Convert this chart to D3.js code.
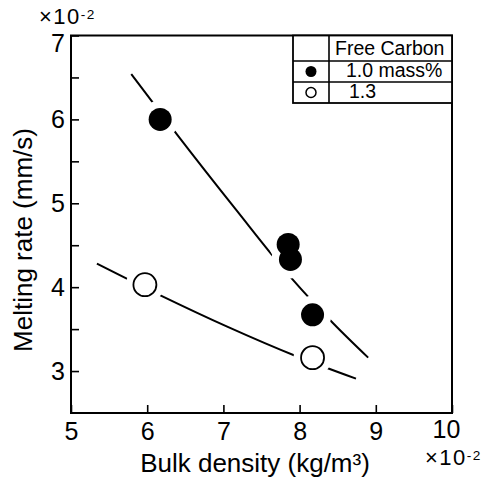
<!DOCTYPE html>
<html>
<head>
<meta charset="utf-8">
<script src="https://cdn.jsdelivr.net/npm/d3@7"></script>
<style>
  html, body { margin: 0; padding: 0; background: #fff; }
  svg { display: block; font-family: "Liberation Sans", Arial, Helvetica, sans-serif; }
</style>
</head>
<body>
<svg id="chart" width="489" height="479"></svg>
<script>
// Measured melting rate vs bulk density (both axes in units of 10^-2)
const density10 = [6.17, 7.85, 7.88, 8.17];
const rate10    = [6.00, 4.51, 4.33, 3.67];
const density13 = [5.97, 8.17];
const rate13    = [4.03, 3.16];

// Hand-drawn trend curves through each series
const fitDensity10 = [5.79, 6.40, 7.16, 7.89, 8.44, 8.90];
const fitRate10    = [6.54, 5.81, 4.93, 4.11, 3.57, 3.16];
const fitDensity13 = [5.34, 6.18, 7.05, 7.95, 8.74];
const fitRate13    = [4.28, 3.90, 3.53, 3.18, 2.91];

const xTickValues = [5, 6, 7, 8, 9, 10];
const yTickValues = [3, 3.5, 4, 4.5, 5, 5.5, 6, 6.5, 7];

const legendTitle = "Free Carbon";
const legendLabels = ["1.0 mass%", "1.3"];

const svg = d3.select("#chart");
const x = d3.scaleLinear().domain([5, 10]).range([71, 452]);
const y = d3.scaleLinear().domain([2.5, 7]).range([413, 35.5]);

// Axes with inward ticks
const xAxis = d3.axisBottom(x).tickValues(xTickValues).tickSize(-8).tickPadding(9)
  .tickFormat(d3.format("d"));
const yAxis = d3.axisLeft(y).tickValues(yTickValues).tickSize(-8).tickPadding(6)
  .tickFormat(d => Number.isInteger(d) ? d : "");

const gx = svg.append("g").attr("transform", `translate(0,${y.range()[0]})`).call(xAxis);
const gy = svg.append("g").attr("transform", `translate(${x.range()[0]},0)`).call(yAxis);
[gx, gy].forEach(g => {
  g.select(".domain").remove();
  g.selectAll(".tick line").attr("stroke", "#000").attr("stroke-width", 1.6);
  g.selectAll(".tick text").attr("fill", "#000").attr("font-size", 25)
    .attr("font-family", "Liberation Sans, Arial, sans-serif");
});
// corner labels sit slightly inside the corner
gy.selectAll(".tick text").filter(d => d === 7).attr("dy", "0.62em");
gx.selectAll(".tick text").filter(d => d === 10).attr("dx", -6).attr("dy", "0.63em");

// Plot frame
svg.append("rect")
  .attr("x", x(5)).attr("y", y(7))
  .attr("width", x(10) - x(5)).attr("height", y(2.5) - y(7))
  .attr("fill", "none").attr("stroke", "#000").attr("stroke-width", 2);

// Trend curves
const line = d3.line().x(d => x(d[0])).y(d => y(d[1])).curve(d3.curveMonotoneX);
const fit10 = fitDensity10.map((d, i) => [d, fitRate10[i]]);
const fit13 = fitDensity13.map((d, i) => [d, fitRate13[i]]);
svg.append("path").attr("d", line(fit10)).attr("fill", "none")
  .attr("stroke", "#000").attr("stroke-width", 2);
svg.append("path").attr("d", line(fit13)).attr("fill", "none")
  .attr("stroke", "#000").attr("stroke-width", 2);

// Markers: white halos break the curves around each point
const pts10 = density10.map((d, i) => [d, rate10[i]]);
const pts13 = density13.map((d, i) => [d, rate13[i]]);
svg.append("g").selectAll("circle").data(pts10.concat(pts13)).join("circle")
  .attr("cx", d => x(d[0])).attr("cy", d => y(d[1])).attr("r", 19).attr("fill", "#fff");
svg.append("g").selectAll("circle").data(pts10).join("circle")
  .attr("cx", d => x(d[0])).attr("cy", d => y(d[1])).attr("r", 11.5).attr("fill", "#000");
svg.append("g").selectAll("circle").data(pts13).join("circle")
  .attr("cx", d => x(d[0])).attr("cy", d => y(d[1])).attr("r", 11.5)
  .attr("fill", "#fff").attr("stroke", "#000").attr("stroke-width", 1.8);

// Legend table in the top-right corner
const lg = svg.append("g");
const lx0 = 293, lx1 = 329, lx2 = x(10);
const ly = [y(7), 61, 82, 103];
lg.append("rect").attr("x", lx0).attr("y", ly[0]).attr("width", lx2 - lx0).attr("height", ly[3] - ly[0])
  .attr("fill", "#fff").attr("stroke", "#000").attr("stroke-width", 1.8);
lg.append("line").attr("x1", lx1).attr("x2", lx1).attr("y1", ly[0]).attr("y2", ly[3])
  .attr("stroke", "#000").attr("stroke-width", 1.6);
[ly[1], ly[2]].forEach(v => lg.append("line").attr("x1", lx0).attr("x2", lx2)
  .attr("y1", v).attr("y2", v).attr("stroke", "#000").attr("stroke-width", 1.6));
lg.append("text").attr("x", 335).attr("y", 55).attr("font-size", 19.5).text(legendTitle);
lg.append("text").attr("x", 346).attr("y", 77).attr("font-size", 19.5).text(legendLabels[0]);
lg.append("text").attr("x", 349).attr("y", 98).attr("font-size", 19.5).text(legendLabels[1]);
lg.append("circle").attr("cx", (lx0 + lx1) / 2).attr("cy", (ly[1] + ly[2]) / 2).attr("r", 5.5).attr("fill", "#000");
lg.append("circle").attr("cx", (lx0 + lx1) / 2).attr("cy", (ly[2] + ly[3]) / 2).attr("r", 5)
  .attr("fill", "#fff").attr("stroke", "#000").attr("stroke-width", 1.5);

// Axis titles
svg.append("text").attr("x", 255).attr("y", 472).attr("text-anchor", "middle")
  .attr("font-size", 26).text("Bulk density (kg/m³)");
svg.append("text").attr("transform", "translate(32,240) rotate(-90)").attr("text-anchor", "middle")
  .attr("font-size", 26).text("Melting rate (mm/s)");

// Scale multipliers
function multiplier(px, py, size) {
  const t = svg.append("text").attr("x", px).attr("y", py).attr("font-size", size)
    .attr("letter-spacing", 1.5);
  t.append("tspan").text("×10");
  t.append("tspan").attr("font-size", size * 0.62).attr("dy", -5).text("-2");
}
multiplier(39, 23.5, 22);
multiplier(425, 465, 22);
</script>
</body>
</html>
